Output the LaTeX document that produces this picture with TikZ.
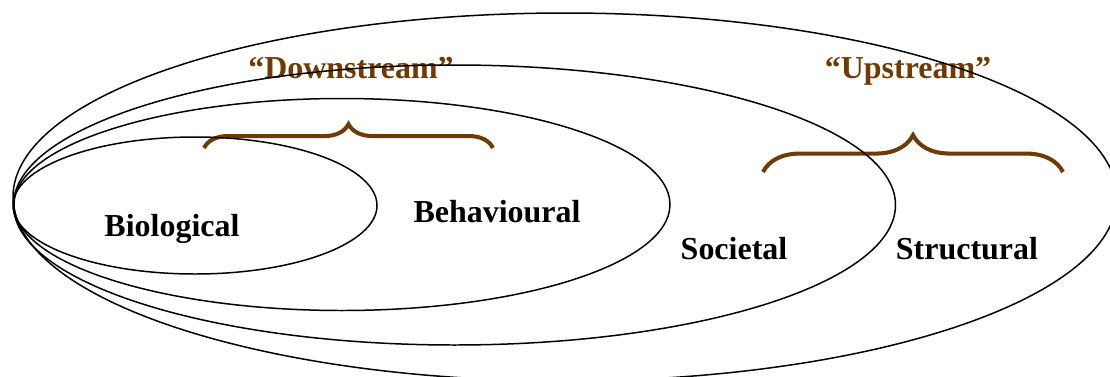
\documentclass[tikz,border=0pt]{standalone}
\usepackage{fontspec}
\setmainfont{Liberation Serif}
\usetikzlibrary{decorations.pathreplacing}
\definecolor{streambrown}{RGB}{112,58,6}

\begin{document}
\begin{tikzpicture}[x = 0.02cm, y = -0.02cm,
    layer/.style = {draw = black, line width = 0.85pt},
    tag/.style = {font = \fontsize{18.2}{20}\selectfont\bfseries, anchor = base, inner sep = 0pt},
    stream/.style = {tag, text = streambrown},
    bracket/.style = {draw = streambrown, line width = 2.3pt, decorate,
        decoration = {brace, amplitude = #1}}]
    \useasboundingbox (0,0) rectangle (1110,376);
    \clip (0,0) rectangle (1110,376);
        % labels
        \node[tag] (biological) at (172,236) {Biological};
        \node[tag] (behavioural) at (497,222) {Behavioural};
        \node[tag] (societal) at (734,259) {Societal};
        \node[tag] (structural) at (967,259) {Structural};
        \node[stream] (downstream) at (351,78) {“Downstream”};
        \node[stream] (upstream) at (908,78) {“Upstream”};
        % braces
        \coordinate (down west) at (204,148);
        \coordinate (down east) at (493,148);
        \coordinate (up west) at (763,172);
        \coordinate (up east) at (1063,172);
        \draw[bracket = 13.6pt] (down west) -- (down east);
        \draw[bracket = 21pt] (up west) -- (up east);
        % nested levels
        \draw[layer] (195,205.5) ellipse [x radius = 182, y radius = 68.5];
        \draw[layer] (342,204.5) ellipse [x radius = 328, y radius = 106];
        \draw[layer] (454.5,205) ellipse [x radius = 441, y radius = 140];
        \draw[layer] (565,197) ellipse [x radius = 552, y radius = 184];
\end{tikzpicture}
\end{document}
